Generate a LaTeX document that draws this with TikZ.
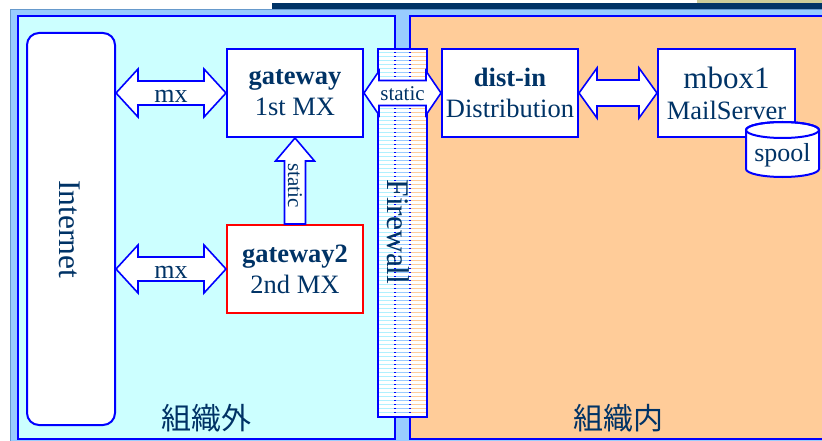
\documentclass[tikz,border=0pt]{standalone}
\usepackage{fontspec}
\setmainfont{Liberation Serif}
\newfontfamily\jpfont{Noto Sans CJK JP}
\usetikzlibrary{calc}

% fat two-headed arrow: left tip, right tip, head length, head half width, shaft half width
\newcommand\fatarrow[5]{%
  \draw[fat] let \p1=(#1), \p2=(#2) in
    (\p1) -- ++(#3pt,#4pt) -- ++(0pt,#5pt-#4pt) -- (\x2-#3pt,\y1+#5pt)
    -- ++(0pt,#4pt-#5pt) -- (\p2) -- ++(-#3pt,-#4pt) -- ++(0pt,#4pt-#5pt)
    -- (\x1+#3pt,\y1-#5pt) -- ++(0pt,#5pt-#4pt) -- cycle;}

\begin{document}
\begin{tikzpicture}[x=1pt,y=-1pt,
  box/.style={draw=blue,line width=2pt,fill=white,text=ink,align=center,inner sep=0pt,
    minimum width=136pt,minimum height=88pt,font=\fontsize{26.5}{31}\selectfont},
  fat/.style={draw=blue,line width=1.6pt,fill=white},
  lbl/.style={text=ink,inner sep=0pt,font=\fontsize{26}{26}\selectfont},
  jp/.style={text=ink,inner sep=0pt,font=\jpfont\fontsize{30}{30}\selectfont}]
\definecolor{ink}{HTML}{003366}
\definecolor{sky}{HTML}{99CCFF}
\definecolor{aqua}{HTML}{CCFFFF}
\definecolor{peach}{HTML}{FFCC99}
\definecolor{khaki}{HTML}{CCCC99}
\definecolor{edge}{HTML}{6699CC}
\definecolor{stripe}{HTML}{B0F0FF}
\useasboundingbox (0,0) rectangle (822,441);
% background panels
\fill[sky] (10,9) rectangle (822,441);
\draw[edge] (10,441) -- (10,9) -- (822,9);
\fill[ink] (272,3) rectangle (822,9);
\fill[khaki] (697,0) rectangle (822,3);
\draw[blue,line width=1.5pt,fill=aqua] (18,16) rectangle (395,439);
\draw[blue,line width=1.5pt,fill=peach] (410,16) rectangle (830,439);
% hosts
\node[box,rounded corners=12pt,minimum width=88pt,minimum height=392pt] (net) at (71,229) {};
\node[lbl,rotate=-90,font=\fontsize{31.5}{31.5}\selectfont] (netlbl) at (70,229) {Internet};
\node[box] (gw) at (295,93) {\textbf{gateway}\\1st MX};
\node[box,draw=red] (gw2) at (295,269) {\textbf{gateway2}\\2nd MX};
\node[box] (dist) at (510,93) {\textbf{dist-in}\\Distribution};
\node[box,minimum width=137pt] (mbox) at (726.5,93) {{\fontsize{31}{31}\selectfont mbox1}\\MailServer};
% firewall
\node[draw=blue,line width=2pt,fill=white,minimum width=49pt,minimum height=368pt,inner sep=0pt] (fw) at (402.5,233) {};
\foreach \y in {52,56,...,414} {
  \draw[stripe] (379,\y) -- (394,\y);
  \draw[sky] (396,\y) -- (409,\y);
  \draw[peach] (411,\y) -- (426,\y);
  \draw[blue] (394,\y) -- (396,\y) (409,\y) -- (411,\y);
}
\node[lbl,rotate=-90,font=\fontsize{31.5}{31.5}\selectfont] (fwlbl) at (398,232) {Firewall};
% connections
\fatarrow{net.east |- gw.west}{gw.west}{22}{24}{12}
\node[lbl] (mx1) at ($(net.east |- gw.west)!0.5!(gw.west)+(0,3)$) {mx};
\fatarrow{net.east |- gw2.west}{gw2.west}{22}{24}{12}
\node[lbl] (mx2) at ($(net.east |- gw2.west)!0.5!(gw2.west)+(0,3)$) {mx};
\fatarrow{gw.east}{dist.west}{15}{22}{12.5}
\node[lbl,font=\fontsize{21}{21}\selectfont] (st1) at ($(gw.east)!0.5!(dist.west)+(0,1)$) {static};
\fatarrow{dist.east}{mbox.west}{18}{25}{13}
\draw[fat] let \p1=(gw2.north), \p2=(gw.south) in
  (\p2) -- ++(19.5pt,-23pt) -- ++(-9pt,0pt) -- (\x1+10.5pt,\y1)
  -- (\x1-10.5pt,\y1) -- (\x2-10.5pt,\y2-23pt) -- ++(-9pt,0pt) -- cycle;
\node[lbl,rotate=-90,font=\fontsize{21}{21}\selectfont] (st2) at ($(gw.south)!0.55!(gw2.north)$) {static};
% spool
\draw[fat,line width=2pt] (746,130) -- (746,169) arc[start angle=180,end angle=360,x radius=36.5pt,y radius=8pt]
  -- (819,130) arc[start angle=0,end angle=180,x radius=36.5pt,y radius=8pt] -- cycle;
\draw[blue,line width=2pt] (782.5,130) ellipse[x radius=36.5pt,y radius=8pt];
\node[lbl] (spool) at (782.5,155) {spool};
% zones
\node[jp] (outside) at (206,418) {組織外};
\node[jp] (inside) at (618,418) {組織内};
\end{tikzpicture}
\end{document}
